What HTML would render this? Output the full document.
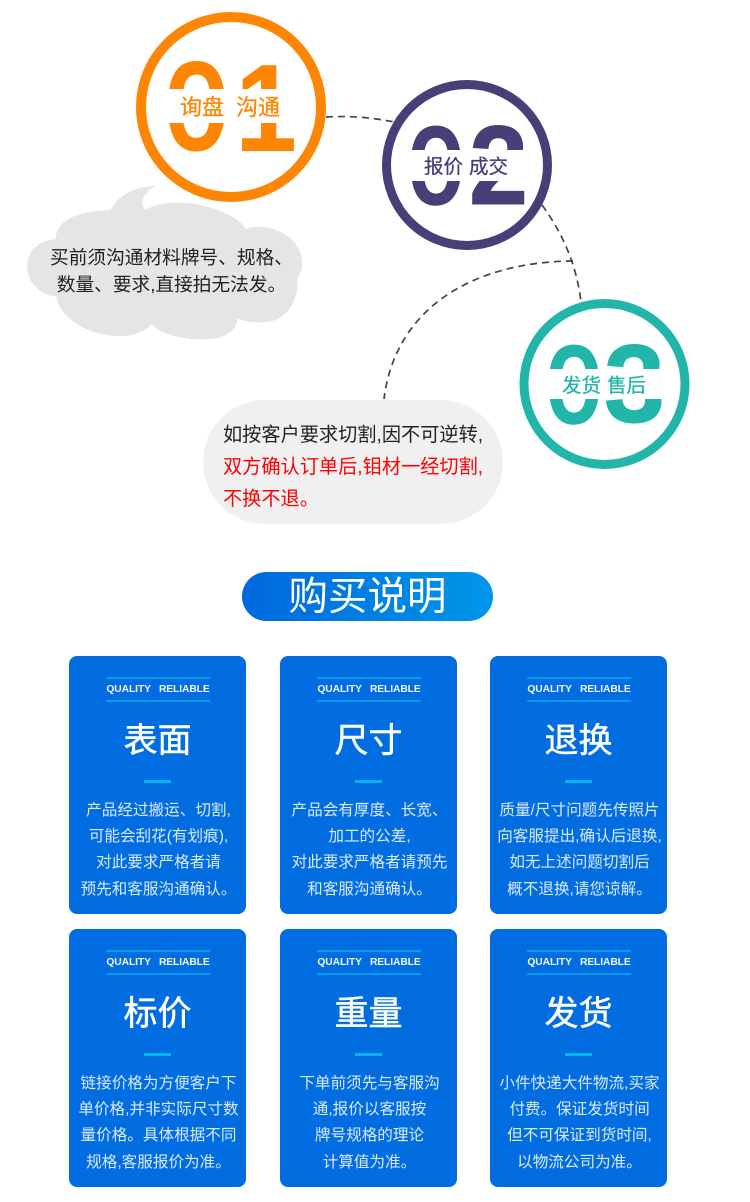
<!DOCTYPE html>
<html><head><meta charset="utf-8"><style>
html,body{margin:0;padding:0;background:#fff}
body{width:750px;height:1202px;position:relative;overflow:hidden;font-family:"Liberation Sans","Noto Sans CJK SC",sans-serif}
svg.top{position:absolute;left:0;top:0}
.bt{position:absolute;font-size:19.2px;line-height:32px;left:223px;white-space:nowrap;color:#222}
.ct{position:absolute;font-size:18.7px;line-height:27px;white-space:nowrap;color:#222;text-align:center;left:29px;width:285px}
.pill{position:absolute;left:242px;top:572px;width:251px;height:49px;border-radius:25px;background:linear-gradient(90deg,#0068de,#0096e8);color:#fff;font-size:39.5px;line-height:51px;text-align:center}
.card{position:absolute;width:177px;height:258px;border-radius:8px;background:#026de0;color:#fff;text-align:center}
.q{position:absolute;left:37px;top:21px;width:104px;height:21px;border-top:2px solid #0a9cea;border-bottom:2px solid #0a9cea;font-size:10.3px;line-height:21px;font-weight:bold;white-space:pre;letter-spacing:-.1px;color:#f0f7ff}
.h{position:absolute;left:0;width:100%;top:63px;font-size:34px;line-height:44px;-webkit-text-stroke:.5px #fff}
.d{position:absolute;left:75px;top:124px;width:27px;height:3px;background:#08b4ee}
.p{position:absolute;left:1px;width:100%;top:142px;font-size:15.6px;line-height:26.2px;color:#d9ebff;white-space:nowrap}
</style></head><body>
<svg class="top" width="750" height="540" viewBox="0 0 750 540">
<g fill="none" stroke="#444" stroke-width="1.7" stroke-dasharray="7 5">
<path d="M326 117 Q360 115 394 122"/>
<path d="M542 205 Q575 250 581 302"/>
<path d="M573 261 C470 262 395 310 384 399"/>
</g>
<path fill="#e5e5e5" transform="translate(20 180) scale(.3333)" d="M408 17C345 20 295 45 272 90C190 92 105 115 108 178C55 180 20 215 22 262C24 310 60 345 110 350C112 400 190 468 300 468C340 468 375 455 395 432C420 465 500 480 560 478C610 476 650 455 652 415C680 428 720 430 750 425C800 415 838 360 832 295C855 270 850 220 825 190C790 145 720 130 680 147C640 95 540 65 460 68C425 70 395 78 377 90C358 72 365 40 408 17Z"/>
<rect x="203" y="400" width="300" height="124" rx="62" fill="#f0f0f0"/>

<circle cx="231" cy="107" r="90" fill="#fff" stroke="#ff8605" stroke-width="10"/>
<g font-family="'Liberation Sans',sans-serif" font-size="121" fill="#ff8605" stroke="#ff8605" stroke-width="5">
<text x="166" y="148" textLength="61" lengthAdjust="spacingAndGlyphs">0</text>
</g>
<g font-family="'Liberation Sans',sans-serif" font-weight="bold" font-size="124" fill="#ff8605">
<text x="235" y="151" textLength="62" lengthAdjust="spacingAndGlyphs">1</text>
</g>
<rect x="160" y="89" width="140" height="34" fill="#fff"/>
<g font-size="22" fill="#ff8605" stroke="#ff8605" stroke-width=".3"><text x="180" y="115">询盘</text><text x="236" y="115">沟通</text></g>

<circle cx="467" cy="165" r="80.5" fill="#fff" stroke="#473f77" stroke-width="9"/>
<g font-family="'Liberation Sans',sans-serif" font-size="107" fill="#473f77" stroke="#473f77" stroke-width="4.5">
<text x="409" y="202.5" textLength="54" lengthAdjust="spacingAndGlyphs">0</text>
</g>
<g font-family="'Liberation Sans',sans-serif" font-weight="bold" font-size="112" fill="#473f77" stroke="#473f77" stroke-width="1">
<text x="469" y="204" textLength="59" lengthAdjust="spacingAndGlyphs">2</text>
</g>
<rect x="405" y="150" width="125" height="31" fill="#fff"/>
<g font-size="19.5" fill="#473f77" stroke="#473f77" stroke-width=".3"><text x="424" y="173">报价</text><text x="469" y="173">成交</text></g>

<circle cx="604.5" cy="384" r="80.5" fill="#fff" stroke="#22b5a9" stroke-width="9"/>
<g font-family="'Liberation Sans',sans-serif" font-size="107" fill="#22b5a9" stroke="#22b5a9" stroke-width="4.5">
<text x="547" y="421.5" textLength="54" lengthAdjust="spacingAndGlyphs">0</text>
</g>
<g font-family="'Liberation Sans',sans-serif" font-weight="bold" font-size="110" fill="#22b5a9" stroke="#22b5a9" stroke-width="1">
<text x="604" y="422" textLength="61" lengthAdjust="spacingAndGlyphs">3</text>
</g>
<rect x="543" y="369" width="125" height="30" fill="#fff"/>
<g font-size="19.5" fill="#22b5a9" stroke="#22b5a9" stroke-width=".3"><text x="562" y="392">发货</text><text x="607" y="392">售后</text></g>
</svg>

<div class="ct" style="top:244px">买前须沟通材料牌号、规格、</div>
<div class="ct" style="top:271px">数量、要求,直接拍无法发。</div>
<div class="bt" style="top:420px">如按客户要求切割,因不可逆转,</div>
<div class="bt" style="top:452px;color:#f00">双方确认订单后,钼材一经切割,</div>
<div class="bt" style="top:484px;color:#f00">不换不退。</div>

<div class="pill">购买说明</div>

<div class="card" style="left:69px;top:656px"><div class="q">QUALITY   RELIABLE</div><div class="h">表面</div><div class="d"></div><div class="p">产品经过搬运、切割,<br>可能会刮花(有划痕),<br>对此要求严格者请<br>预先和客服沟通确认。</div></div>
<div class="card" style="left:280px;top:656px"><div class="q">QUALITY   RELIABLE</div><div class="h">尺寸</div><div class="d"></div><div class="p">产品会有厚度、长宽、<br>加工的公差,<br>对此要求严格者请预先<br>和客服沟通确认。</div></div>
<div class="card" style="left:490px;top:656px"><div class="q">QUALITY   RELIABLE</div><div class="h">退换</div><div class="d"></div><div class="p">质量/尺寸问题先传照片<br>向客服提出,确认后退换,<br>如无上述问题切割后<br>概不退换,请您谅解。</div></div>
<div class="card" style="left:69px;top:929px"><div class="q">QUALITY   RELIABLE</div><div class="h">标价</div><div class="d"></div><div class="p">链接价格为方便客户下<br>单价格,并非实际尺寸数<br>量价格。具体根据不同<br>规格,客服报价为准。</div></div>
<div class="card" style="left:280px;top:929px"><div class="q">QUALITY   RELIABLE</div><div class="h">重量</div><div class="d"></div><div class="p">下单前须先与客服沟<br>通,报价以客服按<br>牌号规格的理论<br>计算值为准。</div></div>
<div class="card" style="left:490px;top:929px"><div class="q">QUALITY   RELIABLE</div><div class="h">发货</div><div class="d"></div><div class="p">小件快递大件物流,买家<br>付费。保证发货时间<br>但不可保证到货时间,<br>以物流公司为准。</div></div>
</body></html>
